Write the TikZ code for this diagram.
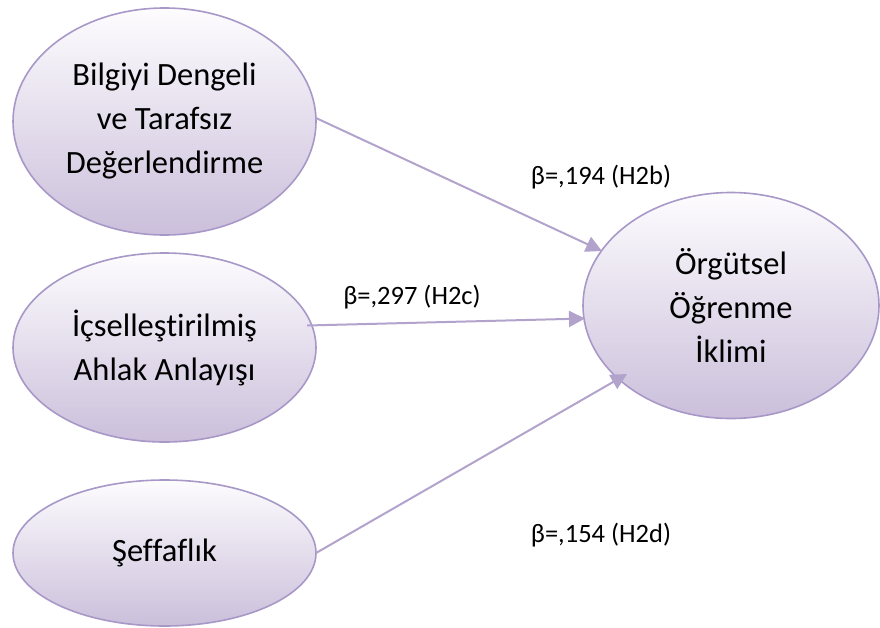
\documentclass[tikz,border=0pt]{standalone}
\usepackage{fontspec}
\setmainfont{Carlito}[Ligatures=NoCommon]
\usetikzlibrary{shapes.geometric,arrows.meta}
\definecolor{edgelav}{HTML}{A898C8}
\definecolor{arrowlav}{HTML}{B2A3CC}
\definecolor{shadetop}{HTML}{FDFCFE}
\definecolor{shadebot}{HTML}{CBBFDB}
\tikzset{
  construct/.style={ellipse, draw=edgelav, line width=1.6pt, inner sep=0pt,
    top color=shadetop, bottom color=shadebot, align=center,
    font=\fontsize{32.5}{44}\selectfont},
  path/.style={draw=arrowlav, line width=2pt,
    -{Triangle[length=16pt,width=16pt]}},
  coef/.style={font=\fontsize{26.5}{30}\selectfont, inner sep=0pt}
}
\begin{document}
\begin{tikzpicture}[x=1pt,y=-1pt]
  \useasboundingbox (0,0) rectangle (880,627);
  \node[construct, minimum width=303pt, minimum height=227pt] (bilgi) at (164.5,121.5)
    {Bilgiyi Dengeli\\ve Tarafsız\\Değerlendirme};
  \node[construct, minimum width=303pt, minimum height=189pt] (ahlak) at (164.5,347.5)
    {İçselleştirilmiş\\Ahlak Anlayışı};
  \node[construct, minimum width=303pt, minimum height=146pt] (seffaf) at (164.5,553)
    {Şeffaflık};
  \node[construct, minimum width=296pt, minimum height=226pt] (iklim) at (731,305.5)
    {Örgütsel\\Öğrenme\\İklimi};

  \coordinate (a1) at (316,118);
  \coordinate (a2) at (307,325.5);
  \coordinate (a3) at (316,553);
  \coordinate (b1) at (602,251);
  \coordinate (b2) at (585,318.5);
  \coordinate (b3) at (627,374);
  \draw[path] (a1) -- (b1);
  \draw[path] (a2) -- (b2);
  \draw[path] (a3) -- (b3);

  \node[coef] (h2b) at (601,177) {β=,194 (H2b)};
  \node[coef] (h2c) at (412,297) {β=,297 (H2c)};
  \node[coef] (h2d) at (601,535) {β=,154 (H2d)};
\end{tikzpicture}
\end{document}
